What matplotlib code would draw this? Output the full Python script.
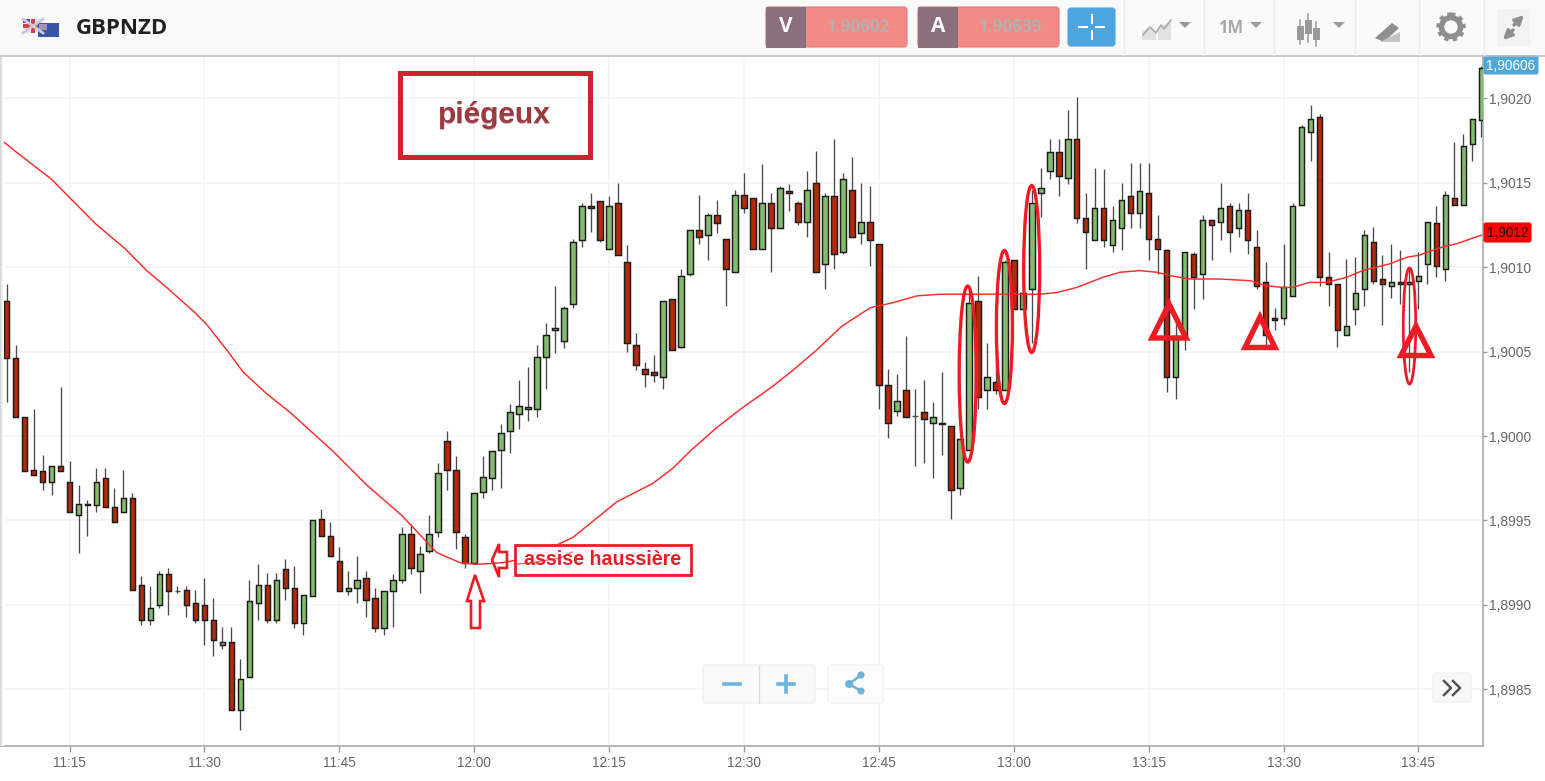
import matplotlib
matplotlib.use('Agg')
import matplotlib.pyplot as plt
import numpy as np
from matplotlib.patches import Rectangle, Ellipse, Polygon, FancyBboxPatch, Circle

# candles, one per minute from 11:08, in points (0.00001) above 1.9000
high_pts = [90,54,11,16,-11,-18,29,-15,-29,-38,
            -19,-19,-31,-20,-34,-83,-89,-80,-78,-89,
            -89,-91,-84,-96,-113,-113,-132,-85,-76,-81,
            -81,-73,-77,-94,-50,-43,-51,-66,-80,-71,
            -80,-90,-92,-82,-54,-52,-65,-47,-16,3,
            -12,-58,-34,-12,-9,7,19,33,41,54,
            67,89,77,117,138,144,139,142,150,113,
            61,44,48,80,81,99,122,143,132,140,
            117,146,156,141,161,144,148,149,139,157,
            169,144,176,156,165,150,148,114,40,37,
            59,28,33,20,38,6,-2,87,95,55,
            50,104,104,85,146,159,176,176,193,201,
            144,159,158,136,150,162,162,162,131,111,
            69,109,109,131,128,150,138,138,144,122,
            103,76,114,138,184,196,191,109,90,105,
            106,122,124,107,114,110,100,109,127,136,
            145,174,179,188,219]
low_pts = [20,11,-21,-23,-32,-35,-21,-45,-69,-59,
           -45,-42,-51,-45,-91,-112,-112,-102,-106,-93,
           -107,-111,-124,-130,-126,-162,-174,-143,-109,-111,
           -111,-97,-114,-118,-95,-59,-71,-92,-94,-99,
           -107,-116,-118,-113,-87,-82,-93,-69,-60,-32,
           -67,-78,-75,-37,-32,-31,-10,4,9,11,
           28,49,52,76,112,121,115,111,107,50,
           39,29,32,28,51,52,95,114,104,120,
           77,97,132,111,111,97,123,133,125,118,
           97,87,99,108,118,114,101,16,-1,12,
           11,-18,-16,-25,-11,-49,-35,-8,16,16,
           25,27,75,75,55,130,152,142,149,126,
           99,116,112,109,110,123,123,104,96,26,
           22,51,75,81,104,116,109,118,108,87,
           53,63,66,83,137,163,89,77,53,60,
           66,77,90,66,82,78,38,75,90,94,
           92,137,137,163,177]
open_pts = [80,46,11,-20,-21,-27,-18,-27,-47,-40,
            -41,-25,-42,-45,-37,-88,-109,-100,-82,-92,
            -91,-99,-100,-109,-124,-122,-162,-143,-99,-88,
            -109,-79,-90,-111,-95,-49,-59,-74,-92,-90,
            -84,-96,-114,-92,-85,-58,-80,-68,-57,-3,
            -20,-60,-75,-33,-25,-8,3,13,16,16,
            47,63,56,78,116,136,139,111,138,103,
            54,40,38,35,81,53,96,122,119,131,
            117,97,143,141,111,138,123,145,138,127,
            150,102,142,109,146,120,127,114,30,15,
            27,12,14,8,8,6,-31,-8,80,27,
            32,27,104,75,87,144,157,168,153,176,
            129,116,135,113,123,142,132,144,117,110,
            35,59,108,96,128,127,136,123,134,112,
            91,70,70,83,137,180,189,94,90,60,
            75,87,115,93,89,91,90,92,102,126,
            99,141,137,173,187]
close_pts = [46,11,-21,-23,-27,-18,-21,-45,-40,-41,
             -27,-42,-51,-37,-91,-109,-102,-82,-92,-92,
             -100,-109,-109,-121,-122,-162,-144,-98,-88,-109,
             -85,-90,-111,-94,-50,-59,-71,-92,-90,-85,
             -97,-114,-92,-85,-58,-78,-70,-58,-22,-20,
             -57,-75,-34,-24,-9,2,14,18,17,47,
             60,64,76,115,136,135,116,136,107,55,
             42,37,36,80,51,95,122,118,131,126,
             99,143,135,111,138,123,147,144,127,146,
             97,142,108,152,118,127,116,30,8,21,
             11,12,10,11,7,-32,-2,79,23,35,
             27,103,75,85,138,147,168,154,176,129,
             121,135,116,128,140,132,145,117,111,35,
             59,109,94,128,125,135,121,134,116,89,
             60,69,88,136,183,188,94,90,63,65,
             85,119,92,90,91,90,91,95,127,101,
             143,137,172,188,218]

ma_min = [-0.73,1.13,5.02,6.87,9.84,13.17,15.58,17.81,20.96,22.26,24.48,26.29,28.93,31.52,
          36.3,40.05,43.94,47.83,50.42,52.28,55.2,58.2,62.99,67.85,71.88,74.11,76,78.97,
          81.89,85.08,87.45,90.09,92.87,96.04,98.6,101.2,103.8,106.8,110.1,114.9,116.8,119,
          121.9,123.8,126,127.9,129.4,131.6,134.9,138.3,140.1,141.9,143,144.9,146.8,149,
          150.8,153.8,155.8,157,159.7,161.3,164]
ma_pts = [176,168,152,142,126,111,98,88,73,66,51,38,25,14,
          -9,-29,-47,-69,-75,-76,-75,-72,-60,-39,-28,-19,-9,5,
          17,29,39,51,65,76,79,83,84,84,84,84,85,88,
          94,97,98,97,95,93,93,92,89,88,88,91,91,94,
          98,102,106,107,112,114,119]

x_tick_min = [7,22,37,52,67,82,97,112,127,142,157]
x_tick_labels = ['11:15','11:30','11:45','12:00','12:15','12:30','12:45','13:00','13:15','13:30','13:45']
y_ticks = [1.8985,1.8990,1.8995,1.9000,1.9005,1.9010,1.9015,1.9020]
y_tick_labels = ['1,8985','1,8990','1,8995','1,9000','1,9005','1,9010','1,9015','1,9020']

W, H = 1545, 781
SANS = 'Liberation Sans'
RED = '#ed1c24'
UP = '#85bb70'
DOWN = '#b32a0a'

to_price = lambda v: 1.9 + np.array(v) * 1e-5
opens, highs, lows, closes = map(to_price, (open_pts, high_pts, low_pts, close_pts))
minutes = np.arange(len(opens))

fig = plt.figure(figsize=(W / 100, H / 100), dpi=100, facecolor='white')

# main chart, plot area is x 0-1483, y 56-746 in pixels
ax = fig.add_axes([0, 1 - 746 / H, 1483 / W, 690 / H])
ax.set_xlim(-0.73, 164.18)
ax.set_ylim(to_price(-183.6), to_price(225.1))
ax.yaxis.tick_right()
ax.set_xticks(x_tick_min, x_tick_labels, family=SANS)
ax.set_yticks(y_ticks, y_tick_labels, family=SANS)
ax.tick_params(axis='x', length=4, width=1, color='#999999', labelcolor='#666666', labelsize=9.8, pad=3.5)
ax.tick_params(axis='y', length=3, width=1, color='#999999', labelcolor='#666666', labelsize=10, pad=1.5)
ax.grid(True, color='#f4f4f4', lw=1.1)
ax.set_axisbelow(True)
for side in ('top', 'left'):
    ax.spines[side].set_visible(False)
for side in ('bottom', 'right'):
    ax.spines[side].set_color('#aaaaaa')
    ax.spines[side].set_linewidth(1.2)

ax.vlines(minutes, lows, highs, color='#4a4a4a', lw=0.95, zorder=2)
colors = [UP if c >= o else DOWN for o, c in zip(opens, closes)]
edges = ['#555555' if o == c else '#1c1c1c' for o, c in zip(opens, closes)]
ax.bar(minutes, np.abs(closes - opens), bottom=np.minimum(opens, closes), width=0.62,
       color=colors, edgecolor=edges, linewidth=1.05, zorder=3)
ax.plot(ma_min, to_price(ma_pts), color='#fb2b2b', lw=1.05, zorder=4, solid_joinstyle='round')

# everything else is screen furniture, drawn in pixel coordinates
ov = fig.add_axes([0, 0, 1, 1], facecolor='none')
ov.set_xlim(0, W)
ov.set_ylim(H, 0)
ov.axis('off')


def rect(x0, y0, x1, y1, **kw):
    kw.setdefault('lw', 0)
    ov.add_patch(Rectangle((x0, y0), x1 - x0, y1 - y0, **kw))


def rbox(x0, y0, x1, y1, fc, ec='#e6e6e6', r=3):
    ov.add_patch(FancyBboxPatch((x0 + r, y0 + r), x1 - x0 - 2 * r, y1 - y0 - 2 * r,
                                boxstyle='round,pad=%d,rounding_size=%d' % (r, r),
                                fc=fc, ec=ec, lw=0.8))


# left shadow strip
ov.imshow(np.array([[0.84, 0.9, 0.96, 1.0]]), cmap='gray', vmin=0, vmax=1, aspect='auto',
          extent=(0, 4, 746, 56), zorder=1)
ov.set_xlim(0, W)
ov.set_ylim(H, 0)

# header bar
rect(0, 0, W, 55, fc='#fafafa')
ov.plot([0, W], [55.5, 55.5], color='#bbbbbb', lw=1.1)
for sx in [1124, 1204, 1274, 1355, 1419, 1484]:
    ov.plot([sx, sx], [0, 55], color='#ececec', lw=0.9)

# flags
rect(23, 19, 43, 33, fc='#e8e8f0')
ov.plot([23, 43], [19, 33], color='#c8c8d8', lw=2)
ov.plot([23, 43], [33, 19], color='#c8c8d8', lw=2)
rect(31, 19, 35, 33, fc='#d8404a')
rect(23, 24, 43, 28, fc='#d8404a')
rect(23, 19, 30, 23, fc='#4a5aa8')
rect(38, 23, 58.5, 37, fc='#3a55a8')
rect(39, 24, 47, 30, fc='#a890b0')
ov.text(76, 28, 'GBPNZD', fontsize=16, fontweight='bold', family='Open Sans', color='#222222', va='center')

# bid / ask boxes
for x0, letter, quote in [(766, 'V', '1.90602'), (918, 'A', '1.90639')]:
    rbox(x0, 7, x0 + 141, 47, '#f28a86', ec='#e57b78')
    rect(x0, 6.5, x0 + 40, 47.5, fc='#8c6f7c')
    ov.text(x0 + 20, 27, letter, color='white', fontsize=15, fontweight='bold', family='Open Sans',
            ha='center', va='center')
    ov.text(x0 + 92, 27, quote, color='#b9adad', fontsize=12.3, fontweight='bold', family='Open Sans',
            ha='center', va='center')

# crosshair button
rbox(1068, 8, 1115, 46, '#4ea5e0', ec='#4ea5e0')
for seg in [((1079, 1087), (27, 27)), ((1096, 1104), (27, 27)), ((1091.5, 1091.5), (15, 23)), ((1091.5, 1091.5), (31, 39))]:
    ov.plot(seg[0], seg[1], color='white', lw=1.5)

# header icons
ICON = '#9a9a9a'
ov.add_patch(Polygon([(1142, 40), (1142, 32), (1150, 26), (1156, 33), (1156, 40)], fc='#e2e2e2', lw=0))
ov.add_patch(Polygon([(1158, 40), (1158, 27), (1171, 22), (1171, 40)], fc='#e2e2e2', lw=0))
ov.plot([1143, 1150, 1156, 1161, 1164, 1171], [35, 27, 33, 25, 29, 20], color='#aaaaaa', lw=1.2)
for tx in (1185, 1256, 1339):
    ov.add_patch(Polygon([(tx - 6, 22), (tx + 6, 22), (tx, 28)], fc=ICON, lw=0))
ov.text(1231, 28, '1M', color='#a8a8a8', fontsize=12, fontweight='bold', family='Open Sans', ha='center', va='center')
for cx, top, bot, t0, t1 in [(1300, 20, 44, 26, 40), (1308, 14, 42, 20, 34), (1316, 22, 46, 28, 40)]:
    ov.plot([cx, cx], [top, bot], color=ICON, lw=1.1)
    rect(cx - 3.5, t0, cx + 3.5, t1, fc=ICON)
ov.add_patch(Polygon([(1375, 38), (1392, 23), (1399, 28), (1384, 42)], fc='#8f8f8f', lw=0))
ov.add_patch(Polygon([(1380, 42), (1400, 32), (1400, 42)], fc='#c4c4c4', lw=0))
ov.add_patch(Circle((1451, 27), 9.5, fc='none', ec='#8f8f8f', lw=4))
ov.add_patch(Circle((1451, 27), 13, fc='none', ec='#8f8f8f', lw=2.4, ls=(0, (1.3, 1.3))))
rect(1497, 9, 1530, 46, fc='#f3f3f3')
ov.annotate('', xy=(1526, 13), xytext=(1512, 27), arrowprops=dict(arrowstyle='-|>', color='#8f8f8f', lw=2.4, mutation_scale=13))
ov.annotate('', xy=(1501, 42), xytext=(1515, 28), arrowprops=dict(arrowstyle='-|>', color='#8f8f8f', lw=2.4, mutation_scale=13))

# price tags
rbox(1484, 56, 1538, 74, '#4fa8d8', ec='#4fa8d8', r=2)
ov.text(1511, 65.5, '1,90606', color='white', fontsize=9.8, family=SANS, ha='center', va='center')
rbox(1484, 223, 1531, 242, '#ff0000', ec='#ff0000', r=2)
ov.text(1508, 233, '1,9012', color='#220000', fontsize=9.8, family=SANS, ha='center', va='center')

# zoom and share buttons
rbox(703, 665, 815, 703, '#fafafa', ec='#eeeeee')
ov.plot([758.5, 758.5], [665, 703], color='#dddddd', lw=0.9)
ov.plot([724, 740], [684, 684], color='#6fb1dd', lw=2.6)
ov.plot([778, 794], [684, 684], color='#6fb1dd', lw=2.6)
ov.plot([786, 786], [676, 692], color='#6fb1dd', lw=2.6)
rbox(828, 665, 883, 703, '#fcfcfc', ec='#eeeeee')
ov.plot([861, 849, 861], [675, 684, 691], color='#6fb1dd', lw=1.8)
for px, py, pr in [(861, 675, 3.6), (849, 684, 4), (861, 691, 3.6)]:
    ov.add_patch(Circle((px, py), pr, fc='#6fb1dd', lw=0))
rbox(1433, 673, 1471, 702, '#f8f8f8', ec='#eeeeee')
for dx in (0, 9):
    ov.plot([1444 + dx, 1451 + dx, 1444 + dx], [681, 688, 695], color='#555555', lw=1.8)

# hand drawn annotations
rect(399.5, 72.5, 589.5, 157, fc='none', ec='#c9252d', lw=3.6)
ov.text(494.5, 115.5, 'piégeux', color='#d9b0b2', fontsize=21.5, fontweight='bold', family=SANS, ha='center', va='center')
ov.text(494, 115, 'piégeux', color='#9b3a40', fontsize=21.5, fontweight='bold', family=SANS, ha='center', va='center')

rect(515, 545, 691, 575, fc='white', ec=RED, lw=2)
ov.plot([516, 530, 560, 572], [564, 563, 558, 552], color='#fb2b2b', lw=1.0, alpha=0.7)
ov.text(602.5, 559.5, 'assise haussière', color=RED, fontsize=14.1, fontweight='bold', family=SANS, ha='center', va='center')

up_arrow = [(475, 575), (484, 601), (480, 601), (480, 628), (471, 628), (471, 601), (467, 601)]
ov.add_patch(Polygon(up_arrow, closed=True, fc='none', ec=RED, lw=1.9))
left_arrow = [(492, 560), (499, 544), (499, 552), (507, 552), (507, 568), (499, 568), (499, 577)]
ov.add_patch(Polygon(left_arrow, closed=True, fc='none', ec=RED, lw=1.9))

for cx, cy, w, h, lw in [(967.7, 374, 17, 176, 2.4), (1004.4, 327, 16, 153, 2.4), (1031.7, 269, 16, 167, 2.4), (1409.5, 326, 12.5, 116, 2.0)]:
    ov.add_patch(Ellipse((cx, cy), w, h, fc='none', ec=RED, lw=lw))

for apex, base_y, x0, x1 in [((1169, 304), 338, 1152, 1186), ((1260, 317), 347.5, 1245, 1275), ((1416, 326), 355.5, 1401, 1431)]:
    ov.add_patch(Polygon([apex, (x1, base_y), (x0, base_y)], closed=True, fc='none', ec=RED, lw=3.9, joinstyle='miter'))

fig.savefig('out.png', dpi=100)
